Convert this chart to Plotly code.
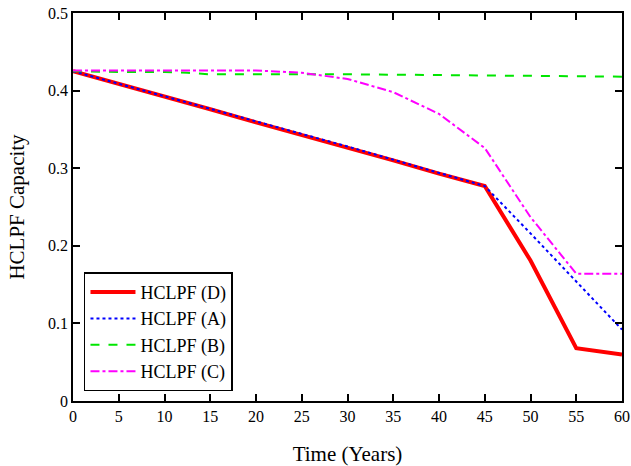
import plotly.graph_objects as go

years = [0, 5, 10, 15, 20, 25, 30, 35, 40, 45, 50, 55, 60]
hclpf_d = [0.425, 0.409, 0.392, 0.376, 0.359, 0.343, 0.326, 0.310, 0.293, 0.277, 0.181, 0.068, 0.060]
hclpf_a = [0.425, 0.409, 0.393, 0.377, 0.361, 0.345, 0.328, 0.311, 0.294, 0.277, 0.216, 0.154, 0.092]
years_b = [0, 5, 10, 12.5, 15, 20, 30, 40, 50, 60]
hclpf_b = [0.425, 0.424, 0.424, 0.423, 0.421, 0.421, 0.421, 0.420, 0.419, 0.418]
hclpf_c = [0.426, 0.426, 0.426, 0.426, 0.426, 0.423, 0.415, 0.398, 0.370, 0.326, 0.237, 0.164, 0.164]

x_ticks = list(range(0, 61, 5))
y_ticks = [0, 0.1, 0.2, 0.3, 0.4, 0.5]
y_tick_labels = ["0", "0.1", "0.2", "0.3", "0.4", "0.5"]

fig = go.Figure()
fig.add_trace(go.Scatter(x=years, y=hclpf_d, mode="lines", name="HCLPF (D)",
                         line=dict(color="#ff0000", width=4)))
fig.add_trace(go.Scatter(x=years, y=hclpf_a, mode="lines", name="HCLPF (A)",
                         line=dict(color="#0000ff", width=2, dash="dot")))
fig.add_trace(go.Scatter(x=years_b, y=hclpf_b, mode="lines", name="HCLPF (B)",
                         line=dict(color="#00e600", width=2, dash="dash")))
fig.add_trace(go.Scatter(x=years, y=hclpf_c, mode="lines", name="HCLPF (C)",
                         line=dict(color="#ff00ff", width=2, dash="dashdot")))

font_family = "Liberation Serif"
axis_common = dict(
    showgrid=False, zeroline=False, showline=True, linecolor="black", linewidth=1.5,
    mirror="ticks", ticks="inside", ticklen=7, tickwidth=1.5, tickcolor="black",
    tickfont=dict(family=font_family, size=16, color="black"), automargin=False,
)

fig.update_layout(
    width=631, height=466,
    margin=dict(l=73, r=9, t=13, b=65),
    paper_bgcolor="white", plot_bgcolor="white",
    font=dict(family=font_family, color="black"),
    xaxis=dict(range=[0, 60], tickvals=x_ticks, **axis_common,
               title=dict(text="Time (Years)", font=dict(family=font_family, size=21), standoff=22)),
    yaxis=dict(range=[0, 0.5], tickvals=y_ticks, ticktext=y_tick_labels, **axis_common,
               title=dict(text="HCLPF Capacity", font=dict(family=font_family, size=21), standoff=18)),
    legend=dict(x=0.02, y=0.025, xanchor="left", yanchor="bottom",
                bordercolor="black", borderwidth=1.5, bgcolor="white",
                font=dict(family=font_family, size=18), tracegroupgap=0,
                itemwidth=45),
    showlegend=True,
)

fig.write_html("out.html")
